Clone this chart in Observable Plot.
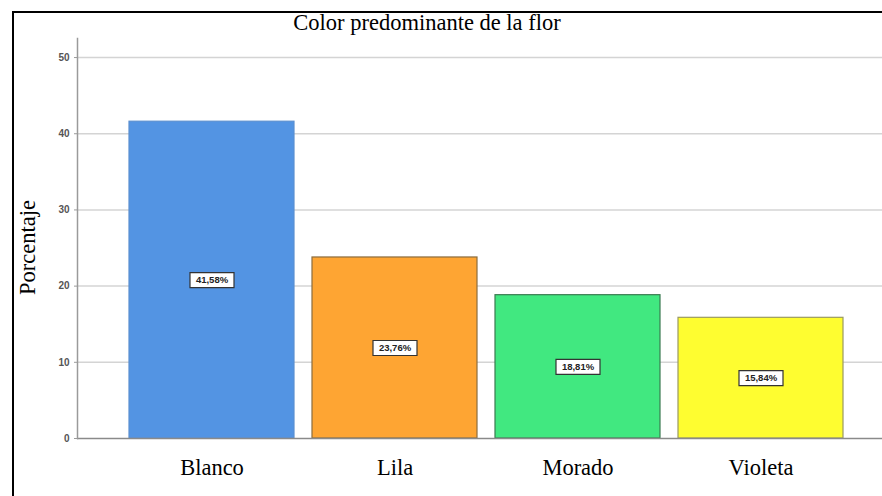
<!DOCTYPE html>
<html><head><meta charset="utf-8">
<script src="https://cdn.jsdelivr.net/npm/d3@7"></script>
<script src="https://cdn.jsdelivr.net/npm/@observablehq/plot@0.6"></script>
<style>
body{margin:0;background:#fff;}
#wrap{position:relative;width:882px;height:496px;overflow:hidden;}
#border{position:absolute;left:12px;top:11px;width:900px;height:520px;border-top:2px solid #000;border-left:2px solid #000;}
#title{position:absolute;left:0;width:854px;top:10px;text-align:center;font-family:"Liberation Serif","DejaVu Serif",serif;font-size:22.5px;color:#000;}
</style></head>
<body><div id="wrap"><div id="border"></div><div id="chart"></div><div id="title">Color predominante de la flor</div></div>
<script>
const categories = ["Blanco", "Lila", "Morado", "Violeta"];
const values = [41.58, 23.76, 18.81, 15.84];
const labels = ["41,58%", "23,76%", "18,81%", "15,84%"];
const colors = ["#5394e3", "#fea533", "#41e880", "#fefd30"];
const strokes = ["#5b8fd0", "#8a6d3e", "#3a7a50", "#9a9a60"];
const yTicks = [0, 10, 20, 30, 40, 50];

const data = categories.map((c, i) => ({cat: c, v: values[i], label: labels[i], fill: colors[i], stroke: strokes[i]}));
const box = {draw(ctx){ ctx.rect(-22, -7.5, 44, 15); }};

const chart = Plot.plot({
  width: 882, height: 496,
  marginLeft: 77, marginRight: 0, marginTop: 38, marginBottom: 58,
  style: {fontFamily: "Arial, 'Liberation Sans', sans-serif", background: "transparent"},
  x: {domain: categories, range: [77, 894], paddingInner: 0.1, paddingOuter: 0.278},
  y: {domain: [0, 52.5], range: [438, 38]},
  color: {type: "identity"},
  marks: [
    Plot.gridY(yTicks.slice(1), {stroke: "#d4d4d4", strokeOpacity: 1, strokeWidth: 1.5}),
    Plot.barY(data, {x: "cat", y: "v", fill: "fill", stroke: "stroke", strokeWidth: 1.2}),
    Plot.ruleY([0], {stroke: "#8a8a8a", strokeWidth: 1.5}),
    Plot.frame({anchor: "left", stroke: "#9a9a9a", strokeWidth: 1.5}),
    Plot.dot(data, {x: "cat", y: d => d.v / 2, symbol: box, fill: "#fff", stroke: "#333", strokeWidth: 1.2, r: 5}),
    Plot.text(data, {x: "cat", y: d => d.v / 2, text: "label", fontSize: 9.5, fill: "#222", fontWeight: 600}),
    Plot.axisY(yTicks, {tickSize: 3, tickPadding: 5, fontSize: 10, fontWeight: "bold", fill: "#555", stroke: "#9a9a9a", label: null}),
    Plot.axisX({tickSize: 0, tickPadding: 21, fontSize: 22.5, fontFamily: "'Liberation Serif', 'DejaVu Serif', serif", fill: "#000", label: null}),
    Plot.text(["Porcentaje"], {frameAnchor: "left", textAnchor: "middle", dx: -50, dy: 9, rotate: -90, fontSize: 22.5, fontFamily: "'Liberation Serif', 'DejaVu Serif', serif", fill: "#000"})
  ]
});
document.getElementById("chart").appendChild(chart);
</script>
</body></html>
